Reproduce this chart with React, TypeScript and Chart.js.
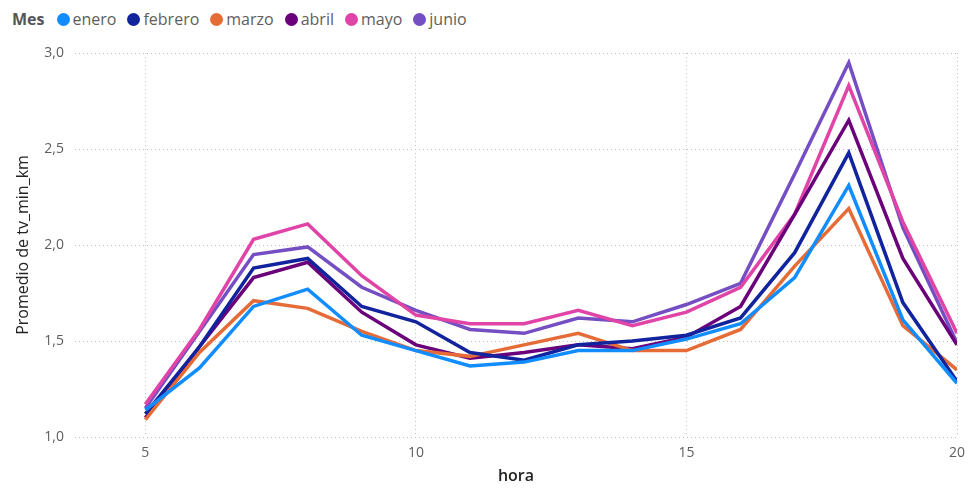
import React, { useEffect, useRef } from "react";
import { Chart, registerables } from "chart.js";

Chart.register(...registerables);

const horas = [5, 6, 7, 8, 9, 10, 11, 12, 13, 14, 15, 16, 17, 18, 19, 20];
const meses = ["enero", "febrero", "marzo", "abril", "mayo", "junio"];
const colores = ["#118DFF", "#12239E", "#E66C37", "#6B007B", "#E044A7", "#744EC2"];

const enero = [1.14, 1.36, 1.68, 1.77, 1.53, 1.45, 1.37, 1.39, 1.45, 1.45, 1.51, 1.59, 1.83, 2.31, 1.61, 1.28];
const febrero = [1.12, 1.47, 1.88, 1.93, 1.68, 1.6, 1.44, 1.4, 1.48, 1.5, 1.53, 1.62, 1.96, 2.48, 1.7, 1.29];
const marzo = [1.09, 1.44, 1.71, 1.67, 1.55, 1.45, 1.42, 1.48, 1.54, 1.45, 1.45, 1.56, 1.89, 2.19, 1.58, 1.35];
const abril = [1.1, 1.47, 1.83, 1.91, 1.65, 1.48, 1.41, 1.44, 1.48, 1.46, 1.52, 1.68, 2.16, 2.65, 1.93, 1.48];
const mayo = [1.17, 1.56, 2.03, 2.11, 1.84, 1.635, 1.59, 1.59, 1.66, 1.58, 1.65, 1.78, 2.16, 2.83, 2.12, 1.54];
const junio = [1.15, 1.55, 1.95, 1.99, 1.78, 1.66, 1.56, 1.54, 1.62, 1.6, 1.69, 1.8, 2.37, 2.95, 2.09, 1.49];

const series = [enero, febrero, marzo, abril, mayo, junio];

const FONT = "'Open Sans', 'Noto Sans', sans-serif";

export default function App() {
  const ref = useRef<HTMLCanvasElement>(null);

  useEffect(() => {
    if (!ref.current) return;
    const chart = new Chart(ref.current, {
      type: "line",
      data: {
        datasets: meses.map((m, i) => ({
          label: m,
          data: horas.map((h, j) => ({ x: h, y: series[i][j] })),
          borderColor: colores[i],
          backgroundColor: colores[i],
          borderWidth: 3.5,
          pointRadius: 0,
          tension: 0,
          fill: false,
        })),
      },
      options: {
        responsive: true,
        maintainAspectRatio: false,
        animation: false,
        layout: { padding: { left: 10, right: 12, top: 53, bottom: 2 } },
        plugins: {
          legend: { display: false },
          tooltip: { enabled: false },
        },
        scales: {
          x: {
            type: "linear",
            min: 3.7,
            max: 20,
            border: { display: false, dash: [1, 3] },
            grid: {
              color: "#C0C0C0",
              lineWidth: 1,
              drawTicks: false,
            },
            ticks: {
              stepSize: 5,
              includeBounds: false,
              padding: 8,
              color: "#605E5C",
              font: { family: FONT, size: 14 },
            },
            title: {
              display: true,
              text: "hora",
              color: "#252423",
              font: { family: FONT, size: 16, weight: "600" },
              padding: { top: 4, bottom: 4 },
            },
            afterFit: (s: any) => {
              s.height = 53;
              s.paddingRight = 0;
            },
          },
          y: {
            min: 1,
            max: 3,
            border: { display: false, dash: [1, 3] },
            grid: {
              color: "#C0C0C0",
              lineWidth: 1,
              drawTicks: false,
            },
            ticks: {
              stepSize: 0.5,
              padding: 11,
              color: "#605E5C",
              font: { family: FONT, size: 14 },
              callback: (v: any) => Number(v).toFixed(1).replace(".", ","),
            },
            title: {
              display: true,
              text: "Promedio de tv_min_km",
              color: "#252423",
              font: { family: FONT, size: 16 },
              padding: { top: 4, bottom: 4 },
            },
            afterFit: (s: any) => {
              s.width = 65;
            },
          },
        },
      },
    });
    return () => chart.destroy();
  }, []);

  return (
    <div style={{ position: "fixed", left: 0, top: 0, width: 969, height: 492, background: "#fff" }}>
      <div
        style={{
          position: "absolute",
          left: 12,
          top: 8,
          display: "flex",
          alignItems: "center",
          fontFamily: FONT,
          fontSize: 16,
          color: "#605E5C",
          whiteSpace: "nowrap",
        }}
      >
        <span style={{ fontWeight: 700, marginRight: 12, color: "#555" }}>Mes</span>
        {meses.map((m, i) => (
          <span key={m} style={{ display: "flex", alignItems: "center", marginRight: 11 }}>
            <span
              style={{
                width: 13,
                height: 13,
                borderRadius: "50%",
                background: colores[i],
                display: "inline-block",
                marginRight: 3,
              }}
            />
            {m}
          </span>
        ))}
      </div>
      <canvas ref={ref} style={{ position: "absolute", left: 0, top: 0, width: 969, height: 492 }} />
    </div>
  );
}
